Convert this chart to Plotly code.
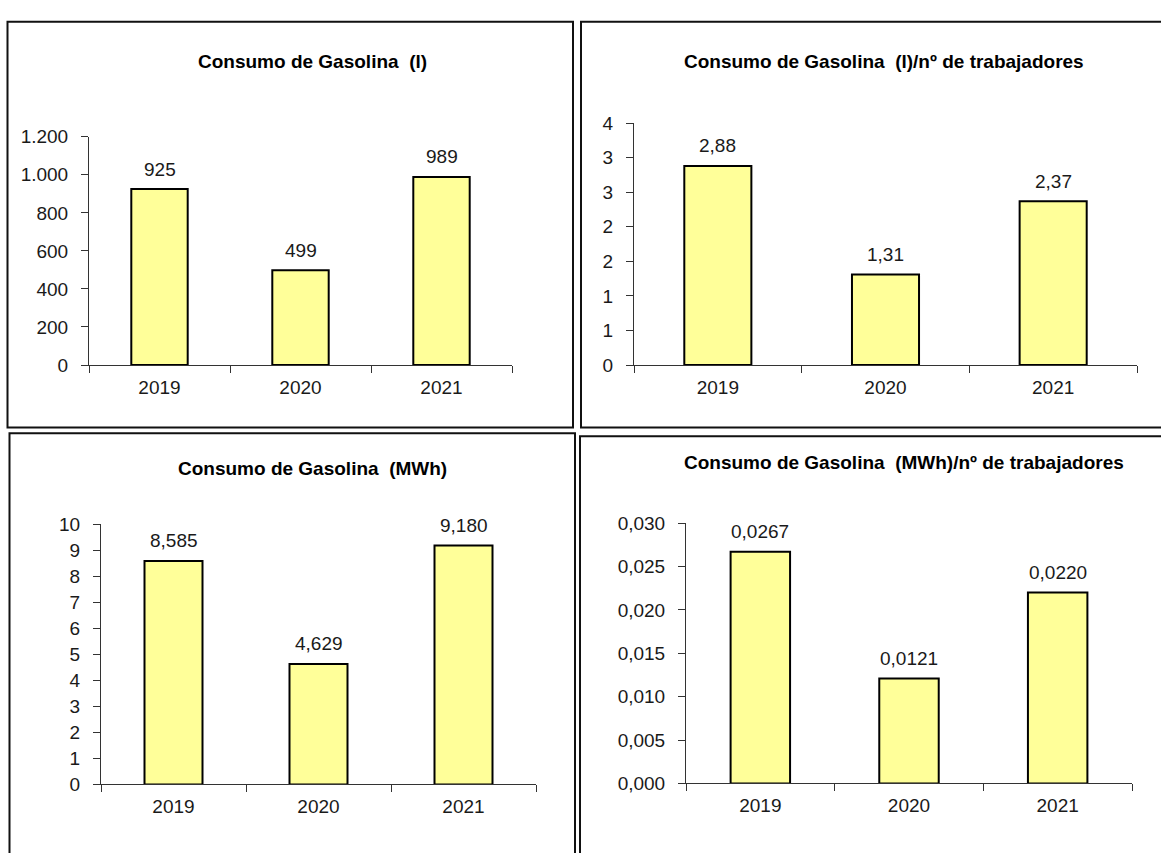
import plotly.graph_objects as go

W, H = 1161, 853

years = ["2019", "2020", "2021"]

litros = [925, 499, 989]
litros_lbl = ["925", "499", "989"]
litros_ticks = [0, 200, 400, 600, 800, 1000, 1200]
litros_ticktext = ["0", "200", "400", "600", "800", "1.000", "1.200"]

litros_trab = [2.88, 1.31, 2.37]
litros_trab_lbl = ["2,88", "1,31", "2,37"]
litros_trab_ticks = [0, 0.5, 1, 1.5, 2, 2.5, 3, 3.5]
litros_trab_ticktext = ["0", "1", "1", "2", "2", "3", "3", "4"]

mwh = [8.585, 4.629, 9.180]
mwh_lbl = ["8,585", "4,629", "9,180"]
mwh_ticks = [0, 1, 2, 3, 4, 5, 6, 7, 8, 9, 10]
mwh_ticktext = ["0", "1", "2", "3", "4", "5", "6", "7", "8", "9", "10"]

mwh_trab = [0.0267, 0.0121, 0.0220]
mwh_trab_lbl = ["0,0267", "0,0121", "0,0220"]
mwh_trab_ticks = [0, 0.005, 0.010, 0.015, 0.020, 0.025, 0.030]
mwh_trab_ticktext = ["0,000", "0,005", "0,010", "0,015", "0,020", "0,025", "0,030"]

titles = [
    "Consumo de Gasolina  (l)",
    "Consumo de Gasolina  (l)/nº de trabajadores",
    "Consumo de Gasolina  (MWh)",
    "Consumo de Gasolina  (MWh)/nº de trabajadores",
]

FONT = "Liberation Sans, Arial, sans-serif"
TXT = "#1a1a1a"


def px(x):
    return x / W


def py(y):
    return 1 - y / H


panels = [
    dict(v=litros, l=litros_lbl, t=litros_ticks, tt=litros_ticktext, ymax=1200,
         box=(89, 512, 130, 364), tpos=(312, 53), border=(7.5, 573, 12, 428)),
    dict(v=litros_trab, l=litros_trab_lbl, t=litros_trab_ticks, tt=litros_trab_ticktext, ymax=3.5,
         box=(634, 1137, 116, 364), tpos=(884, 53), border=(581, 1175, 12, 428)),
    dict(v=mwh, l=mwh_lbl, t=mwh_ticks, tt=mwh_ticktext, ymax=10,
         box=(101, 536, 527, 794), tpos=(312, 470), border=(9.5, 575, 434, 870)),
    dict(v=mwh_trab, l=mwh_trab_lbl, t=mwh_trab_ticks, tt=mwh_trab_ticktext, ymax=0.030,
         box=(686, 1132, 526, 793), tpos=(904, 464), border=(580, 1175, 437, 870)),
]

fig = go.Figure()
annotations = []
shapes = []
layout = {}

for i, p in enumerate(panels):
    n = "" if i == 0 else str(i + 1)
    xa, ya = "x" + n, "y" + n
    fig.add_trace(go.Bar(
        x=years, y=p["v"], xaxis=xa, yaxis=ya, width=0.4,
        marker=dict(color="#FFFF99", line=dict(color="#000000", width=2)),
        showlegend=False, hoverinfo="skip",
    ))
    x0, x1, yt, yb = p["box"]
    layout["xaxis" + n] = dict(
        domain=[px(x0), px(x1)], anchor=ya, type="category", range=[-0.5, 2.5],
        tickson="boundaries", ticks="outside", ticklen=7, tickcolor="#333",
        showline=True, linecolor="#333", linewidth=1, showgrid=False,
        tickfont=dict(family=FONT, size=19, color=TXT), ticklabelstandoff=5,
        fixedrange=True,
    )
    layout["yaxis" + n] = dict(
        domain=[py(yb), py(yt)], anchor=xa, range=[0, p["ymax"]],
        tickvals=p["t"], ticktext=p["tt"], ticks="outside", ticklen=7, tickcolor="#333",
        showline=True, linecolor="#333", linewidth=1, showgrid=False, zeroline=False,
        tickfont=dict(family=FONT, size=19, color=TXT), ticklabelstandoff=9,
        fixedrange=True,
    )
    for k, (val, lab) in enumerate(zip(p["v"], p["l"])):
        annotations.append(dict(
            x=k, y=val, xref=xa, yref=ya, text=lab, showarrow=False,
            yanchor="middle", yshift=20,
            font=dict(family=FONT, size=19, color=TXT),
        ))
    annotations.append(dict(
        x=px(p["tpos"][0]), y=py(p["tpos"][1]), xref="paper", yref="paper",
        text="<b>" + titles[i] + "</b>", showarrow=False,
        xanchor="center", yanchor="middle",
        font=dict(family=FONT, size=19, color="#000000"),
    ))
    bx0, bx1, by0, by1 = p["border"]
    shapes.append(dict(
        type="rect", xref="paper", yref="paper",
        x0=px(bx0), x1=px(bx1), y0=py(by1), y1=py(by0),
        line=dict(color="#111111", width=2), fillcolor="rgba(0,0,0,0)",
    ))

fig.update_layout(
    width=W, height=H, margin=dict(l=0, r=0, t=0, b=0),
    paper_bgcolor="white", plot_bgcolor="white",
    annotations=annotations, shapes=shapes, bargap=0.6,
    **layout,
)

fig.write_html("out.html", config={"displayModeBar": False},
               post_script="document.body.style.margin='0';")
